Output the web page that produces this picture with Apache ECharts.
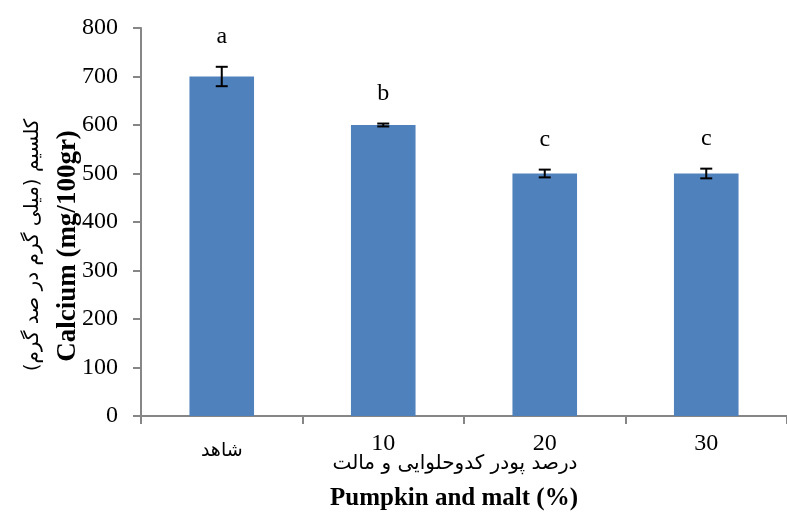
<!DOCTYPE html>
<html>
<head>
<meta charset="utf-8">
<script src="https://cdn.jsdelivr.net/npm/echarts@6/dist/echarts.min.js"></script>
<style>
  html, body { margin: 0; padding: 0; background: #fff; }
  #main { width: 787px; height: 512px; }
</style>
</head>
<body>
<div id="main"></div>
<script>
var categories = ['شاهد', '10', '20', '30'];
var calcium = [700, 600, 500, 500];
var errors = [20, 3, 8, 10];
var letters = ['a', 'b', 'c', 'c'];
var yTicks = [0, 800, 100];

var chart = echarts.init(document.getElementById('main'));
var axisColor = '#868686';
var serif = '"Liberation Serif", "Times New Roman", serif';
var persian = '"DejaVu Sans", sans-serif';

var errData = calcium.map(function (v, i) {
    return [i, v - errors[i], v + errors[i], letters[i]];
});

var option = {
    animation: false,
    grid: { left: 141, top: 28, width: 653, height: 388 },
    xAxis: {
        type: 'category',
        data: categories,
        axisLine: { lineStyle: { color: axisColor, width: 2 } },
        axisTick: { show: true, length: 8, lineStyle: { color: axisColor, width: 2 } },
        axisLabel: {
            margin: 16,
            color: '#000',
            fontFamily: serif,
            fontSize: 24,
            formatter: function (v, i) {
                return i === 0 ? '{p|' + v + '}' : v;
            },
            rich: {
                p: { fontFamily: persian, fontSize: 19, color: '#000', padding: [10, 0, 0, 0] }
            }
        }
    },
    yAxis: {
        type: 'value',
        min: yTicks[0],
        max: yTicks[1],
        interval: yTicks[2],
        splitLine: { show: false },
        axisLine: { show: true, lineStyle: { color: axisColor, width: 2 } },
        axisTick: { show: true, length: 8, lineStyle: { color: axisColor, width: 2 } },
        axisLabel: { margin: 23, color: '#000', fontFamily: serif, fontSize: 24 }
    },
    graphic: [
        {
            type: 'text',
            style: {
                text: 'Calcium (mg/100gr)', fontFamily: serif, fontWeight: 'bold', fontSize: 27,
                fill: '#000', textAlign: 'center', textVerticalAlign: 'middle'
            },
            x: 68, y: 246, rotation: Math.PI / 2
        },
        {
            type: 'text',
            style: {
                text: '(کلسیم (میلی گرم در صد گرم', fontFamily: persian, fontSize: 20,
                fill: '#000', textAlign: 'center', textVerticalAlign: 'middle'
            },
            x: 33, y: 245, rotation: Math.PI / 2
        },
        {
            type: 'text',
            style: {
                text: 'درصد پودر کدوحلوایی و مالت', fontFamily: persian, fontSize: 20,
                fill: '#000', textAlign: 'center', textVerticalAlign: 'middle'
            },
            x: 455, y: 464
        },
        {
            type: 'text',
            style: {
                text: 'Pumpkin and malt (%)', fontFamily: serif, fontWeight: 'bold', fontSize: 25,
                fill: '#000', textAlign: 'center', textVerticalAlign: 'middle'
            },
            x: 454, y: 499
        }
    ],
    series: [
        {
            type: 'bar',
            data: calcium,
            barWidth: '40%',
            itemStyle: { color: '#4f81bd' }
        },
        {
            type: 'custom',
            data: errData,
            z: 10,
            renderItem: function (params, api) {
                var x = api.value(0);
                var lo = api.coord([x, api.value(1)]);
                var hi = api.coord([x, api.value(2)]);
                var hw = 6;
                var st = { stroke: '#000', lineWidth: 2 };
                return {
                    type: 'group',
                    children: [
                        { type: 'line', shape: { x1: hi[0], y1: hi[1], x2: lo[0], y2: lo[1] }, style: st },
                        { type: 'line', shape: { x1: hi[0] - hw, y1: hi[1], x2: hi[0] + hw, y2: hi[1] }, style: st },
                        { type: 'line', shape: { x1: lo[0] - hw, y1: lo[1], x2: lo[0] + hw, y2: lo[1] }, style: st },
                        {
                            type: 'text',
                            style: {
                                text: api.value(3), x: hi[0], y: hi[1] - 30,
                                fontFamily: serif, fontSize: 24, fill: '#000',
                                textAlign: 'center', textVerticalAlign: 'middle'
                            }
                        }
                    ]
                };
            }
        }
    ]
};

chart.setOption(option);
</script>
</body>
</html>
